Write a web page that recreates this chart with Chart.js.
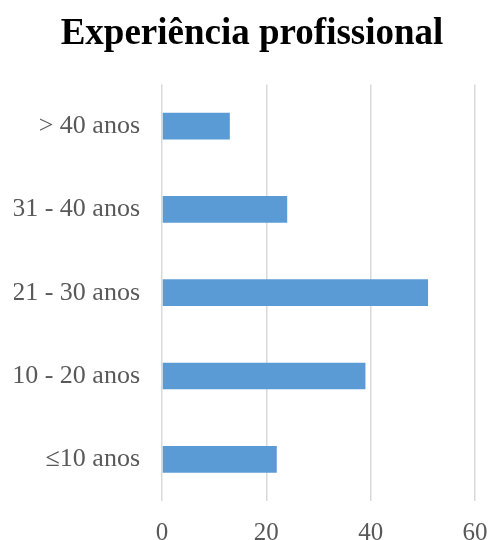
<!DOCTYPE html>
<html>
<head>
<meta charset="utf-8">
<script src="https://cdn.jsdelivr.net/npm/chart.js@4/dist/chart.umd.min.js"></script>
<style>
  body { margin: 0; background: #ffffff; }
</style>
</head>
<body>
<canvas id="myChart" width="490" height="540"></canvas>
<script>
// Dados do gráfico
const categories = ["> 40 anos", "31 - 40 anos", "21 - 30 anos", "10 - 20 anos", "≤10 anos"];
const values = [13, 24, 51, 39, 22];
const xTicks = [0, 20, 40, 60];

const ctx = document.getElementById("myChart").getContext("2d");

new Chart(ctx, {
  type: "bar",
  data: {
    labels: categories,
    datasets: [
      {
        data: values,
        backgroundColor: "#5b9bd5",
        borderWidth: 0,
        barPercentage: 0.32,
        categoryPercentage: 1,
      },
    ],
  },
  options: {
    indexAxis: "y",
    responsive: false,
    animation: false,
    layout: { padding: { left: 14, right: 0, top: 0, bottom: 0 } },
    plugins: {
      legend: { display: false },
      tooltip: { enabled: false },
      title: {
        display: true,
        text: "Experiência profissional",
        color: "#000000",
        font: { family: "'Liberation Serif', 'Times New Roman', serif", size: 37, weight: "bold" },
        padding: { top: 12, bottom: 28 },
      },
    },
    scales: {
      x: {
        min: 0,
        max: 60,
        afterBuildTicks: (scale) => {
          scale.ticks = xTicks.map((v) => ({ value: v }));
        },
        afterFit: (scale) => {
          scale.height = 39;
          scale.paddingLeft = 0;
          scale.paddingRight = 15;
        },
        border: { display: false },
        grid: { color: "#d9d9d9", lineWidth: 1.5, drawTicks: false },
        ticks: {
          color: "#595959",
          padding: 17,
          font: { family: "'Liberation Serif', 'Times New Roman', serif", size: 25 },
        },
      },
      y: {
        afterFit: (scale) => {
          scale.width = 148;
        },
        border: { display: false },
        grid: { display: false, drawTicks: false },
        ticks: {
          color: "#595959",
          padding: 22,
          font: { family: "'Liberation Serif', 'Times New Roman', serif", size: 26 },
        },
      },
    },
  },
});
</script>
</body>
</html>
